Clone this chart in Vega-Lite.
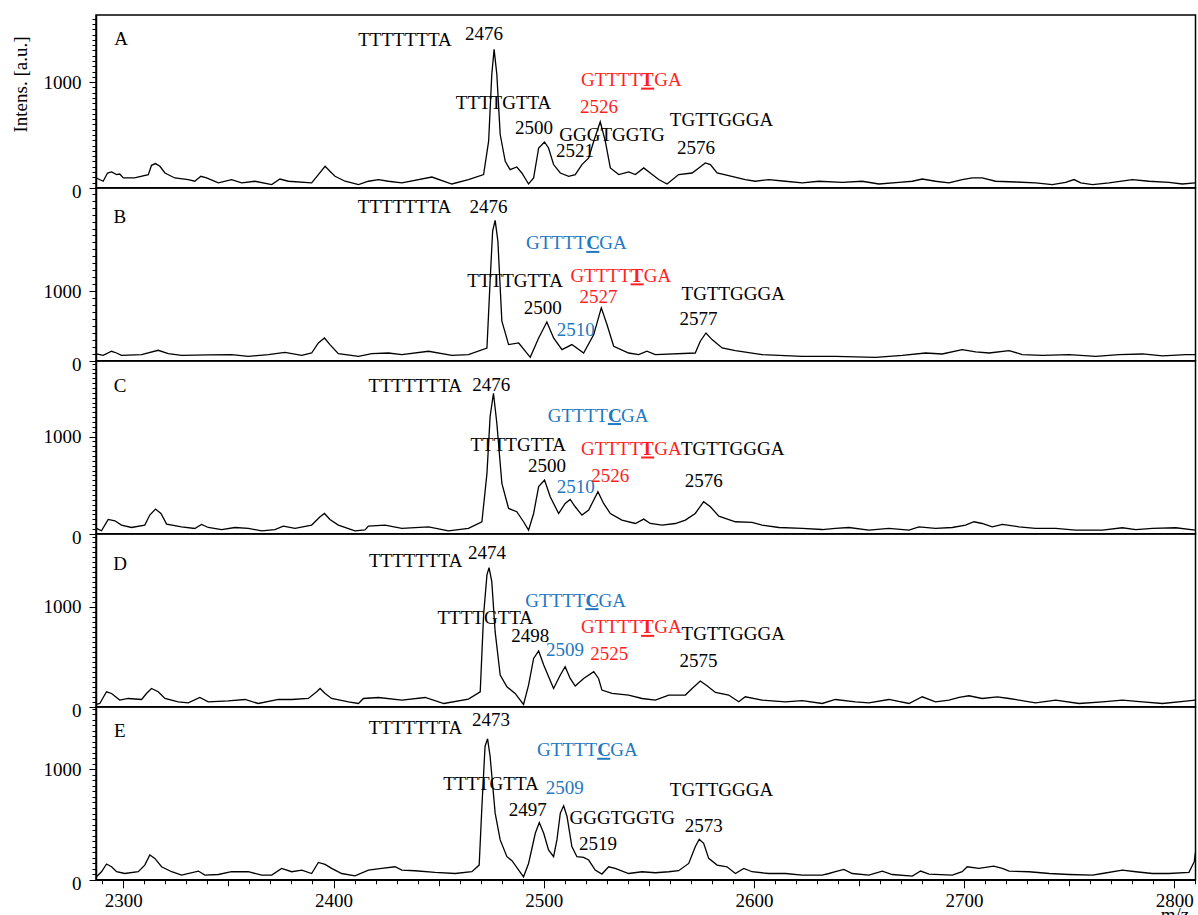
{
"$schema":"https://vega.github.io/schema/vega-lite/v6.json",
"padding":{"left":10,"top":8,"right":2,"bottom":0},
"background":"white",
"spacing":0,
"bounds":"flush",
"config":{"view":{"stroke":"black","strokeWidth":1.5},"font":"Liberation Serif","text":{"font":"Liberation Serif"}},
"datasets":{
"sA":[{"mz":2287.2,"i":93},{"mz":2290.4,"i":62},{"mz":2292.5,"i":140},{"mz":2294.4,"i":150},{"mz":2296.8,"i":125},{"mz":2298.3,"i":130},{"mz":2300,"i":93},{"mz":2305.3,"i":93},{"mz":2311.9,"i":125},{"mz":2313.4,"i":213},{"mz":2315.3,"i":229},{"mz":2317.4,"i":204},{"mz":2319.8,"i":140},{"mz":2324.5,"i":93},{"mz":2330.9,"i":78},{"mz":2334,"i":62},{"mz":2336.9,"i":109},{"mz":2339.6,"i":93},{"mz":2345.2,"i":46},{"mz":2351.5,"i":78},{"mz":2356.3,"i":46},{"mz":2362.6,"i":62},{"mz":2370.6,"i":30},{"mz":2374.5,"i":83},{"mz":2378.5,"i":62},{"mz":2389.6,"i":46},{"mz":2392.8,"i":125},{"mz":2396,"i":204},{"mz":2398.3,"i":156},{"mz":2400.7,"i":109},{"mz":2405.5,"i":62},{"mz":2411.9,"i":30},{"mz":2416.6,"i":62},{"mz":2421.4,"i":78},{"mz":2426.1,"i":62},{"mz":2432.5,"i":46},{"mz":2446.8,"i":102},{"mz":2456.3,"i":36},{"mz":2464.2,"i":78},{"mz":2471.4,"i":125},{"mz":2473.8,"i":441},{"mz":2475.3,"i":1073},{"mz":2476.4,"i":1310},{"mz":2477.7,"i":1073},{"mz":2479.3,"i":504},{"mz":2481.7,"i":251},{"mz":2484,"i":172},{"mz":2487.2,"i":197},{"mz":2489.6,"i":140},{"mz":2492.8,"i":36},{"mz":2495.2,"i":93},{"mz":2497.6,"i":377},{"mz":2500.4,"i":434},{"mz":2502.3,"i":377},{"mz":2504.7,"i":220},{"mz":2507.9,"i":140},{"mz":2511.9,"i":109},{"mz":2515,"i":125},{"mz":2518.2,"i":220},{"mz":2521.4,"i":282},{"mz":2523.8,"i":441},{"mz":2526.9,"i":624},{"mz":2529.3,"i":441},{"mz":2531.7,"i":188},{"mz":2535.7,"i":125},{"mz":2540.4,"i":150},{"mz":2543.6,"i":125},{"mz":2547.6,"i":188},{"mz":2550.7,"i":140},{"mz":2554.7,"i":78},{"mz":2558.7,"i":36},{"mz":2564.2,"i":125},{"mz":2570.6,"i":140},{"mz":2573.8,"i":188},{"mz":2576.9,"i":235},{"mz":2579.3,"i":220},{"mz":2582.5,"i":140},{"mz":2588,"i":115},{"mz":2595.9,"i":78},{"mz":2600.7,"i":62},{"mz":2607.1,"i":78},{"mz":2615,"i":62},{"mz":2623,"i":46},{"mz":2630.9,"i":62},{"mz":2642,"i":52},{"mz":2651.5,"i":62},{"mz":2659.5,"i":36},{"mz":2669,"i":52},{"mz":2675.4,"i":62},{"mz":2680.1,"i":83},{"mz":2686.4,"i":62},{"mz":2692.8,"i":46},{"mz":2699.1,"i":78},{"mz":2703.9,"i":93},{"mz":2708.6,"i":93},{"mz":2715,"i":62},{"mz":2724.5,"i":55},{"mz":2734,"i":46},{"mz":2742,"i":30},{"mz":2748.3,"i":52},{"mz":2752.3,"i":78},{"mz":2755.5,"i":46},{"mz":2761.1,"i":30},{"mz":2769,"i":46},{"mz":2780.1,"i":78},{"mz":2788,"i":62},{"mz":2797.5,"i":52},{"mz":2803.8,"i":36},{"mz":2810,"i":46}],
"sB":[{"mz":2287.2,"i":98},{"mz":2290.4,"i":79},{"mz":2294.4,"i":137},{"mz":2296.8,"i":112},{"mz":2299.1,"i":79},{"mz":2308.7,"i":89},{"mz":2316.6,"i":151},{"mz":2321.4,"i":103},{"mz":2327.7,"i":79},{"mz":2340.4,"i":84},{"mz":2351.5,"i":89},{"mz":2359.5,"i":65},{"mz":2369,"i":89},{"mz":2376.9,"i":122},{"mz":2384.9,"i":79},{"mz":2389.6,"i":112},{"mz":2392.8,"i":256},{"mz":2395.7,"i":328},{"mz":2398.3,"i":233},{"mz":2402.3,"i":103},{"mz":2411.9,"i":65},{"mz":2418.2,"i":103},{"mz":2426.1,"i":112},{"mz":2432.5,"i":89},{"mz":2445.2,"i":137},{"mz":2456.3,"i":79},{"mz":2464.2,"i":89},{"mz":2473,"i":184},{"mz":2474.5,"i":1144},{"mz":2475.7,"i":1863},{"mz":2476.9,"i":2017},{"mz":2478.2,"i":1719},{"mz":2480.1,"i":568},{"mz":2483.3,"i":233},{"mz":2488.1,"i":256},{"mz":2493.6,"i":50},{"mz":2497.6,"i":328},{"mz":2501.5,"i":558},{"mz":2504.7,"i":328},{"mz":2508.7,"i":161},{"mz":2513.4,"i":233},{"mz":2519,"i":112},{"mz":2523.8,"i":377},{"mz":2527.4,"i":760},{"mz":2530.1,"i":521},{"mz":2533.3,"i":209},{"mz":2540.4,"i":112},{"mz":2545.2,"i":89},{"mz":2549.1,"i":137},{"mz":2553.1,"i":89},{"mz":2572.1,"i":112},{"mz":2574.5,"i":281},{"mz":2577.2,"i":400},{"mz":2580.1,"i":305},{"mz":2584.9,"i":184},{"mz":2591.2,"i":147},{"mz":2603.9,"i":89},{"mz":2623,"i":65},{"mz":2638.8,"i":65},{"mz":2657.9,"i":50},{"mz":2670.6,"i":79},{"mz":2681.7,"i":112},{"mz":2689.6,"i":98},{"mz":2699.1,"i":161},{"mz":2705.5,"i":127},{"mz":2711.9,"i":112},{"mz":2721.4,"i":147},{"mz":2727.7,"i":89},{"mz":2737.3,"i":79},{"mz":2750,"i":89},{"mz":2762.6,"i":65},{"mz":2773.7,"i":89},{"mz":2784.9,"i":98},{"mz":2794.4,"i":72},{"mz":2805.5,"i":89},{"mz":2810,"i":89}],
"sC":[{"mz":2287.2,"i":55},{"mz":2289.6,"i":31},{"mz":2291.2,"i":90},{"mz":2292.8,"i":148},{"mz":2296,"i":134},{"mz":2299.1,"i":90},{"mz":2303.9,"i":65},{"mz":2310.2,"i":90},{"mz":2312.6,"i":193},{"mz":2315.3,"i":255},{"mz":2317.9,"i":209},{"mz":2320.6,"i":100},{"mz":2327.7,"i":72},{"mz":2334,"i":55},{"mz":2337.2,"i":96},{"mz":2340.4,"i":65},{"mz":2346.8,"i":44},{"mz":2353.1,"i":65},{"mz":2359.5,"i":55},{"mz":2365.8,"i":31},{"mz":2372.1,"i":44},{"mz":2376.1,"i":79},{"mz":2381.7,"i":55},{"mz":2389.6,"i":90},{"mz":2393.6,"i":175},{"mz":2395.7,"i":209},{"mz":2398.3,"i":148},{"mz":2402.3,"i":90},{"mz":2410.2,"i":31},{"mz":2415,"i":41},{"mz":2416.6,"i":79},{"mz":2424.5,"i":90},{"mz":2432.5,"i":55},{"mz":2445.2,"i":72},{"mz":2454.7,"i":31},{"mz":2464.2,"i":55},{"mz":2470.6,"i":124},{"mz":2473,"i":622},{"mz":2474.5,"i":1206},{"mz":2476.1,"i":1446},{"mz":2477.7,"i":1137},{"mz":2480.1,"i":519},{"mz":2483.3,"i":261},{"mz":2487.2,"i":227},{"mz":2490.4,"i":124},{"mz":2492.8,"i":38},{"mz":2495.2,"i":209},{"mz":2497.6,"i":485},{"mz":2500.4,"i":554},{"mz":2503.1,"i":381},{"mz":2507.1,"i":209},{"mz":2510.2,"i":312},{"mz":2512.6,"i":354},{"mz":2515,"i":278},{"mz":2518.2,"i":193},{"mz":2521.4,"i":244},{"mz":2525.8,"i":433},{"mz":2528.5,"i":312},{"mz":2531.7,"i":209},{"mz":2537.2,"i":141},{"mz":2543.6,"i":106},{"mz":2547.6,"i":151},{"mz":2550.7,"i":106},{"mz":2556.3,"i":90},{"mz":2562.6,"i":106},{"mz":2567.4,"i":141},{"mz":2572.1,"i":209},{"mz":2576.1,"i":330},{"mz":2579.3,"i":278},{"mz":2583.3,"i":182},{"mz":2591.2,"i":124},{"mz":2599.1,"i":117},{"mz":2603.9,"i":90},{"mz":2611.9,"i":65},{"mz":2623,"i":55},{"mz":2632.5,"i":44},{"mz":2638.8,"i":55},{"mz":2645.2,"i":65},{"mz":2654.7,"i":38},{"mz":2664.2,"i":55},{"mz":2673.8,"i":38},{"mz":2678.5,"i":72},{"mz":2686.4,"i":55},{"mz":2694.4,"i":65},{"mz":2700.7,"i":90},{"mz":2704.7,"i":124},{"mz":2708.6,"i":106},{"mz":2713.4,"i":72},{"mz":2718.2,"i":96},{"mz":2726.1,"i":72},{"mz":2734,"i":55},{"mz":2743.6,"i":55},{"mz":2753.1,"i":38},{"mz":2765.8,"i":38},{"mz":2775.3,"i":62},{"mz":2781.7,"i":44},{"mz":2789.6,"i":55},{"mz":2800.7,"i":62},{"mz":2810,"i":38}],
"sD":[{"mz":2287.2,"i":23},{"mz":2288.8,"i":33},{"mz":2292,"i":150},{"mz":2294.4,"i":133},{"mz":2298.3,"i":67},{"mz":2302.3,"i":83},{"mz":2308.7,"i":73},{"mz":2311,"i":133},{"mz":2313.4,"i":183},{"mz":2316.6,"i":150},{"mz":2319.8,"i":83},{"mz":2326.1,"i":50},{"mz":2330.9,"i":40},{"mz":2336.4,"i":93},{"mz":2340.4,"i":50},{"mz":2349.9,"i":60},{"mz":2357.9,"i":73},{"mz":2364.2,"i":33},{"mz":2373.8,"i":73},{"mz":2380.1,"i":73},{"mz":2388,"i":83},{"mz":2392,"i":150},{"mz":2393.6,"i":183},{"mz":2396,"i":133},{"mz":2399.1,"i":83},{"mz":2407.1,"i":50},{"mz":2411.9,"i":33},{"mz":2414.2,"i":83},{"mz":2421.4,"i":93},{"mz":2432.5,"i":67},{"mz":2443.6,"i":93},{"mz":2452.5,"i":33},{"mz":2464.2,"i":77},{"mz":2469.8,"i":150},{"mz":2471.4,"i":917},{"mz":2473,"i":1317},{"mz":2474,"i":1390},{"mz":2475.3,"i":1250},{"mz":2476.9,"i":750},{"mz":2479.3,"i":317},{"mz":2482.5,"i":200},{"mz":2486.4,"i":133},{"mz":2490.4,"i":23},{"mz":2492.8,"i":217},{"mz":2495.2,"i":483},{"mz":2497.6,"i":557},{"mz":2500,"i":417},{"mz":2504.7,"i":183},{"mz":2507.9,"i":317},{"mz":2510.2,"i":400},{"mz":2512.6,"i":283},{"mz":2515,"i":207},{"mz":2519,"i":283},{"mz":2523.8,"i":350},{"mz":2526.1,"i":283},{"mz":2527.7,"i":167},{"mz":2532.5,"i":133},{"mz":2540.4,"i":117},{"mz":2546.8,"i":83},{"mz":2553.1,"i":67},{"mz":2559.5,"i":117},{"mz":2567.4,"i":117},{"mz":2570.6,"i":183},{"mz":2574.5,"i":257},{"mz":2577.7,"i":210},{"mz":2581.7,"i":143},{"mz":2588,"i":117},{"mz":2592.8,"i":50},{"mz":2595.9,"i":100},{"mz":2603.9,"i":67},{"mz":2615,"i":50},{"mz":2623,"i":62},{"mz":2632.5,"i":33},{"mz":2638.8,"i":73},{"mz":2648.3,"i":50},{"mz":2654.7,"i":40},{"mz":2664.2,"i":73},{"mz":2673.8,"i":33},{"mz":2680.1,"i":100},{"mz":2686.4,"i":50},{"mz":2692.8,"i":67},{"mz":2697.6,"i":93},{"mz":2702.3,"i":110},{"mz":2708.6,"i":83},{"mz":2715.8,"i":100},{"mz":2721.4,"i":83},{"mz":2726.1,"i":67},{"mz":2734,"i":40},{"mz":2743.6,"i":67},{"mz":2754.7,"i":33},{"mz":2765.8,"i":50},{"mz":2775.3,"i":67},{"mz":2784.9,"i":50},{"mz":2794.4,"i":33},{"mz":2805.5,"i":57},{"mz":2810,"i":67}],
"sE":[{"mz":2287.2,"i":27},{"mz":2289.6,"i":73},{"mz":2292,"i":143},{"mz":2294.4,"i":118},{"mz":2296.8,"i":73},{"mz":2300.7,"i":57},{"mz":2307.1,"i":73},{"mz":2310.2,"i":133},{"mz":2312.6,"i":224},{"mz":2315,"i":194},{"mz":2318.2,"i":118},{"mz":2323,"i":73},{"mz":2327.7,"i":42},{"mz":2335.7,"i":79},{"mz":2338.8,"i":42},{"mz":2345.2,"i":48},{"mz":2351.5,"i":73},{"mz":2359.5,"i":73},{"mz":2365.8,"i":42},{"mz":2370.6,"i":42},{"mz":2375.3,"i":103},{"mz":2380.1,"i":73},{"mz":2384.9,"i":88},{"mz":2389.6,"i":57},{"mz":2392.8,"i":157},{"mz":2396,"i":139},{"mz":2399.1,"i":103},{"mz":2403.9,"i":57},{"mz":2410.2,"i":36},{"mz":2416.6,"i":88},{"mz":2422.9,"i":103},{"mz":2429.3,"i":118},{"mz":2432.5,"i":88},{"mz":2438.8,"i":82},{"mz":2448.3,"i":67},{"mz":2457.9,"i":57},{"mz":2465.8,"i":73},{"mz":2469.3,"i":133},{"mz":2470.6,"i":664},{"mz":2472.1,"i":1209},{"mz":2473.3,"i":1276},{"mz":2474.5,"i":1118},{"mz":2476.9,"i":603},{"mz":2479.3,"i":361},{"mz":2482.5,"i":209},{"mz":2484.9,"i":173},{"mz":2488.1,"i":88},{"mz":2490.4,"i":27},{"mz":2492.8,"i":148},{"mz":2496,"i":421},{"mz":2497.9,"i":518},{"mz":2500,"i":421},{"mz":2502.3,"i":270},{"mz":2504.7,"i":209},{"mz":2506.3,"i":361},{"mz":2507.9,"i":603},{"mz":2509.5,"i":670},{"mz":2511.1,"i":573},{"mz":2513.4,"i":300},{"mz":2515.8,"i":209},{"mz":2519,"i":203},{"mz":2521.4,"i":179},{"mz":2524.5,"i":88},{"mz":2527.7,"i":52},{"mz":2530.9,"i":118},{"mz":2534,"i":103},{"mz":2540.4,"i":57},{"mz":2546.8,"i":73},{"mz":2553.1,"i":64},{"mz":2559.5,"i":73},{"mz":2564.2,"i":82},{"mz":2569,"i":148},{"mz":2572.1,"i":300},{"mz":2574,"i":367},{"mz":2576.1,"i":330},{"mz":2578.5,"i":194},{"mz":2582.5,"i":133},{"mz":2587.2,"i":118},{"mz":2591.2,"i":57},{"mz":2595.2,"i":103},{"mz":2599.1,"i":73},{"mz":2607.1,"i":57},{"mz":2615,"i":57},{"mz":2623,"i":42},{"mz":2632.5,"i":42},{"mz":2635.7,"i":57},{"mz":2638.8,"i":73},{"mz":2642.8,"i":94},{"mz":2646.8,"i":57},{"mz":2654.7,"i":42},{"mz":2661.1,"i":79},{"mz":2665.8,"i":48},{"mz":2675.4,"i":33},{"mz":2679.3,"i":79},{"mz":2683.3,"i":52},{"mz":2694.4,"i":42},{"mz":2699.1,"i":73},{"mz":2701.5,"i":118},{"mz":2707.1,"i":103},{"mz":2714.1,"i":124},{"mz":2718.2,"i":103},{"mz":2721.4,"i":79},{"mz":2730.9,"i":73},{"mz":2740.6,"i":57},{"mz":2750,"i":48},{"mz":2761.1,"i":42},{"mz":2765.8,"i":57},{"mz":2775.3,"i":88},{"mz":2781.7,"i":73},{"mz":2789.6,"i":57},{"mz":2797.5,"i":57},{"mz":2807,"i":67},{"mz":2809.5,"i":164},{"mz":2810.1,"i":250}],
"lab":[
{"p":"A","mz":2298.9,"i":1351,"t":"A","c":"k"},{"p":"A","mz":2434.0,"i":1341,"t":"TTTTTTTA","c":"k"},{"p":"A","mz":2471.6,"i":1398,"t":"2476","c":"k"},{"p":"A","mz":2480.9,"i":744,"t":"TTTTGTTA","c":"k"},{"p":"A","mz":2495.4,"i":507,"t":"2500","c":"k"},{"p":"A","mz":2526.3,"i":706,"t":"2526","c":"r"},{"p":"A","mz":2532.5,"i":441,"t":"GGGTGGTG","c":"k"},{"p":"A","mz":2514.9,"i":289,"t":"2521","c":"k"},{"p":"A","mz":2584.6,"i":583,"t":"TGTTGGGA","c":"k"},{"p":"A","mz":2572.5,"i":318,"t":"2576","c":"k"},
{"p":"B","mz":2298.3,"i":1974,"t":"B","c":"k"},{"p":"B","mz":2433.8,"i":2122,"t":"TTTTTTTA","c":"k"},{"p":"B","mz":2473.7,"i":2127,"t":"2476","c":"k"},{"p":"B","mz":2486.4,"i":1058,"t":"TTTTGTTA","c":"k"},{"p":"B","mz":2526.1,"i":832,"t":"2527","c":"r"},{"p":"B","mz":2499.5,"i":679,"t":"2500","c":"k"},{"p":"B","mz":2515.2,"i":353,"t":"2510","c":"b"},{"p":"B","mz":2590.2,"i":880,"t":"TGTTGGGA","c":"k"},{"p":"B","mz":2573.6,"i":511,"t":"2577","c":"k"},
{"p":"C","mz":2298.5,"i":1464,"t":"C","c":"k"},{"p":"C","mz":2438.9,"i":1464,"t":"TTTTTTTA","c":"k"},{"p":"C","mz":2475.1,"i":1474,"t":"2476","c":"k"},{"p":"C","mz":2487.9,"i":856,"t":"TTTTGTTA","c":"k"},{"p":"C","mz":2589.9,"i":811,"t":"TGTTGGGA","c":"k"},{"p":"C","mz":2501.6,"i":639,"t":"2500","c":"k"},{"p":"C","mz":2515.2,"i":415,"t":"2510","c":"b"},{"p":"C","mz":2531.7,"i":536,"t":"2526","c":"r"},{"p":"C","mz":2576.1,"i":485,"t":"2576","c":"k"},
{"p":"D","mz":2298.5,"i":1367,"t":"D","c":"k"},{"p":"D","mz":2439.1,"i":1400,"t":"TTTTTTTA","c":"k"},{"p":"D","mz":2473.0,"i":1473,"t":"2474","c":"k"},{"p":"D","mz":2472.2,"i":823,"t":"TTTTGTTA","c":"k"},{"p":"D","mz":2493.6,"i":643,"t":"2498","c":"k"},{"p":"D","mz":2510.1,"i":507,"t":"2509","c":"b"},{"p":"D","mz":2590.2,"i":667,"t":"TGTTGGGA","c":"k"},{"p":"D","mz":2531.2,"i":467,"t":"2525","c":"r"},{"p":"D","mz":2573.7,"i":400,"t":"2575","c":"k"},
{"p":"E","mz":2298.3,"i":1291,"t":"E","c":"k"},{"p":"E","mz":2439.0,"i":1324,"t":"TTTTTTTA","c":"k"},{"p":"E","mz":2474.9,"i":1391,"t":"2473","c":"k"},{"p":"E","mz":2474.9,"i":815,"t":"TTTTGTTA","c":"k"},{"p":"E","mz":2510.0,"i":779,"t":"2509","c":"b"},{"p":"E","mz":2492.4,"i":573,"t":"2497","c":"k"},{"p":"E","mz":2537.4,"i":506,"t":"GGGTGGTG","c":"k"},{"p":"E","mz":2525.8,"i":270,"t":"2519","c":"k"},{"p":"E","mz":2584.6,"i":761,"t":"TGTTGGGA","c":"k"},{"p":"E","mz":2576.1,"i":436,"t":"2573","c":"k"}
],
"mut":[
{"p":"A","mz":2517.7,"i":962,"pre":"GTTTT","mid":"T","post":"GA","c":"r"},
{"p":"B","mz":2491.6,"i":1600,"pre":"GTTTT","mid":"C","post":"GA","c":"b"},
{"p":"B","mz":2512.7,"i":1134,"pre":"GTTTT","mid":"T","post":"GA","c":"r"},
{"p":"C","mz":2501.9,"i":1155,"pre":"GTTTT","mid":"C","post":"GA","c":"b"},
{"p":"C","mz":2517.7,"i":811,"pre":"GTTTT","mid":"T","post":"GA","c":"r"},
{"p":"D","mz":2491.2,"i":1000,"pre":"GTTTT","mid":"C","post":"GA","c":"b"},
{"p":"D","mz":2517.7,"i":733,"pre":"GTTTT","mid":"T","post":"GA","c":"r"},
{"p":"E","mz":2496.8,"i":1118,"pre":"GTTTT","mid":"C","post":"GA","c":"b"}
]
},
"vconcat":[
{"width":1099.5,"height":172.8,
"encoding":{"x":{"field":"mz","type":"quantitative","scale":{"domain":[2287,2810.1],"nice":false,"zero":false},"axis":null},
"y":{"field":"i","type":"quantitative","scale":{"domain":[0,1635],"nice":false},"axis":{"values":[0,50,100,150,200,250,300,350,400,450,500,550,600,650,700,750,800,850,900,950,1000,1050,1100,1150,1200,1250,1300,1350,1400,1450,1500,1550,1600],"labelExpr":"datum.value==0||datum.value==1000?datum.value:''","tickSize":{"condition":{"test":"datum.value==0||datum.value==1000","value":7},"value":4},"labelOffset":{"condition":{"test":"datum.value==0","value":4},"value":0},"grid":false,"domainColor":"black","domainWidth":1.5,"tickColor":"black","labelColor":"black","labelFont":"Liberation Serif","labelFontSize":19,"labelPadding":8,"labelOverlap":false,"labelBound":false,"labelFlush":false,"title":"Intens. [a.u.]","titleFont":"Liberation Serif","titleFontSize":19,"titleFontWeight":"normal","titleColor":"black","titleAngle":-90,"titleX":-69.5,"titleY":69,"titleAlign":"center","titleBaseline":"alphabetic"}}},
"layer":[
{"data":{"name":"sA"},"mark":{"type":"line","color":"black","strokeWidth":1.3},"encoding":{}},
{"data":{"name":"lab"},"transform":[{"filter":"datum.p=='A'"}],"mark":{"type":"text","fontSize":19,"align":"center","baseline":"alphabetic"},"encoding":{"text":{"field":"t"},"color":{"field":"c","type":"nominal","scale":{"domain":["k","r","b"],"range":["#000000","#ff1f1f","#1f78c1"]},"legend":null}}},
{"data":{"name":"mut"},"transform":[{"filter":"datum.p=='A'"}],"mark":{"type":"text","fontSize":19,"align":"left","baseline":"alphabetic"},"encoding":{"text":{"field":"pre"},"color":{"field":"c","type":"nominal","scale":{"domain":["k","r","b"],"range":["#000000","#ff1f1f","#1f78c1"]},"legend":null}}},
{"data":{"name":"mut"},"transform":[{"filter":"datum.p=='A'"}],"mark":{"type":"text","fontSize":19,"align":"left","baseline":"alphabetic","dx":60.2,"fontWeight":"bold"},"encoding":{"text":{"field":"mid"},"color":{"field":"c","type":"nominal","scale":{"domain":["k","r","b"],"range":["#000000","#ff1f1f","#1f78c1"]},"legend":null}}},
{"data":{"name":"mut"},"transform":[{"filter":"datum.p=='A'"}],"mark":{"type":"text","fontSize":19,"align":"left","baseline":"alphabetic","dx":73.3},"encoding":{"text":{"field":"post"},"color":{"field":"c","type":"nominal","scale":{"domain":["k","r","b"],"range":["#000000","#ff1f1f","#1f78c1"]},"legend":null}}},
{"data":{"name":"mut"},"transform":[{"filter":"datum.p=='A'"}],"mark":{"type":"rule","xOffset":60.2,"x2Offset":73.3,"yOffset":2.5,"strokeWidth":2},"encoding":{"x2":{"field":"mz"},"color":{"field":"c","type":"nominal","scale":{"domain":["k","r","b"],"range":["#000000","#ff1f1f","#1f78c1"]},"legend":null}}}
]},
{"width":1099.5,"height":172.8,
"encoding":{"x":{"field":"mz","type":"quantitative","scale":{"domain":[2287,2810.1],"nice":false,"zero":false},"axis":null},
"y":{"field":"i","type":"quantitative","scale":{"domain":[0,2482],"nice":false},"axis":{"values":[0,100,200,300,400,500,600,700,800,900,1000,1100,1200,1300,1400,1500,1600,1700,1800,1900,2000,2100,2200,2300,2400],"labelExpr":"datum.value==0||datum.value==1000?datum.value:''","tickSize":{"condition":{"test":"datum.value==0||datum.value==1000","value":7},"value":4},"labelOffset":{"condition":{"test":"datum.value==0","value":4},"value":0},"grid":false,"domainColor":"black","domainWidth":1.5,"tickColor":"black","labelColor":"black","labelFont":"Liberation Serif","labelFontSize":19,"labelPadding":8,"labelOverlap":false,"labelBound":false,"labelFlush":false,"title":null}}},
"layer":[
{"data":{"name":"sB"},"mark":{"type":"line","color":"black","strokeWidth":1.3},"encoding":{}},
{"data":{"name":"lab"},"transform":[{"filter":"datum.p=='B'"}],"mark":{"type":"text","fontSize":19,"align":"center","baseline":"alphabetic"},"encoding":{"text":{"field":"t"},"color":{"field":"c","type":"nominal","scale":{"domain":["k","r","b"],"range":["#000000","#ff1f1f","#1f78c1"]},"legend":null}}},
{"data":{"name":"mut"},"transform":[{"filter":"datum.p=='B'"}],"mark":{"type":"text","fontSize":19,"align":"left","baseline":"alphabetic"},"encoding":{"text":{"field":"pre"},"color":{"field":"c","type":"nominal","scale":{"domain":["k","r","b"],"range":["#000000","#ff1f1f","#1f78c1"]},"legend":null}}},
{"data":{"name":"mut"},"transform":[{"filter":"datum.p=='B'"}],"mark":{"type":"text","fontSize":19,"align":"left","baseline":"alphabetic","dx":60.2,"fontWeight":"bold"},"encoding":{"text":{"field":"mid"},"color":{"field":"c","type":"nominal","scale":{"domain":["k","r","b"],"range":["#000000","#ff1f1f","#1f78c1"]},"legend":null}}},
{"data":{"name":"mut"},"transform":[{"filter":"datum.p=='B'"}],"mark":{"type":"text","fontSize":19,"align":"left","baseline":"alphabetic","dx":73.3},"encoding":{"text":{"field":"post"},"color":{"field":"c","type":"nominal","scale":{"domain":["k","r","b"],"range":["#000000","#ff1f1f","#1f78c1"]},"legend":null}}},
{"data":{"name":"mut"},"transform":[{"filter":"datum.p=='B'"}],"mark":{"type":"rule","xOffset":60.2,"x2Offset":73.3,"yOffset":2.5,"strokeWidth":2},"encoding":{"x2":{"field":"mz"},"color":{"field":"c","type":"nominal","scale":{"domain":["k","r","b"],"range":["#000000","#ff1f1f","#1f78c1"]},"legend":null}}}
]},
{"width":1099.5,"height":172.8,
"encoding":{"x":{"field":"mz","type":"quantitative","scale":{"domain":[2287,2810.1],"nice":false,"zero":false},"axis":null},
"y":{"field":"i","type":"quantitative","scale":{"domain":[0,1778],"nice":false},"axis":{"values":[0,50,100,150,200,250,300,350,400,450,500,550,600,650,700,750,800,850,900,950,1000,1050,1100,1150,1200,1250,1300,1350,1400,1450,1500,1550,1600,1650,1700,1750],"labelExpr":"datum.value==0||datum.value==1000?datum.value:''","tickSize":{"condition":{"test":"datum.value==0||datum.value==1000","value":7},"value":4},"labelOffset":{"condition":{"test":"datum.value==0","value":4},"value":0},"grid":false,"domainColor":"black","domainWidth":1.5,"tickColor":"black","labelColor":"black","labelFont":"Liberation Serif","labelFontSize":19,"labelPadding":8,"labelOverlap":false,"labelBound":false,"labelFlush":false,"title":null}}},
"layer":[
{"data":{"name":"sC"},"mark":{"type":"line","color":"black","strokeWidth":1.3},"encoding":{}},
{"data":{"name":"lab"},"transform":[{"filter":"datum.p=='C'"}],"mark":{"type":"text","fontSize":19,"align":"center","baseline":"alphabetic"},"encoding":{"text":{"field":"t"},"color":{"field":"c","type":"nominal","scale":{"domain":["k","r","b"],"range":["#000000","#ff1f1f","#1f78c1"]},"legend":null}}},
{"data":{"name":"mut"},"transform":[{"filter":"datum.p=='C'"}],"mark":{"type":"text","fontSize":19,"align":"left","baseline":"alphabetic"},"encoding":{"text":{"field":"pre"},"color":{"field":"c","type":"nominal","scale":{"domain":["k","r","b"],"range":["#000000","#ff1f1f","#1f78c1"]},"legend":null}}},
{"data":{"name":"mut"},"transform":[{"filter":"datum.p=='C'"}],"mark":{"type":"text","fontSize":19,"align":"left","baseline":"alphabetic","dx":60.2,"fontWeight":"bold"},"encoding":{"text":{"field":"mid"},"color":{"field":"c","type":"nominal","scale":{"domain":["k","r","b"],"range":["#000000","#ff1f1f","#1f78c1"]},"legend":null}}},
{"data":{"name":"mut"},"transform":[{"filter":"datum.p=='C'"}],"mark":{"type":"text","fontSize":19,"align":"left","baseline":"alphabetic","dx":73.3},"encoding":{"text":{"field":"post"},"color":{"field":"c","type":"nominal","scale":{"domain":["k","r","b"],"range":["#000000","#ff1f1f","#1f78c1"]},"legend":null}}},
{"data":{"name":"mut"},"transform":[{"filter":"datum.p=='C'"}],"mark":{"type":"rule","xOffset":60.2,"x2Offset":73.3,"yOffset":2.5,"strokeWidth":2},"encoding":{"x2":{"field":"mz"},"color":{"field":"c","type":"nominal","scale":{"domain":["k","r","b"],"range":["#000000","#ff1f1f","#1f78c1"]},"legend":null}}}
]},
{"width":1099.5,"height":172.8,
"encoding":{"x":{"field":"mz","type":"quantitative","scale":{"domain":[2287,2810.1],"nice":false,"zero":false},"axis":null},
"y":{"field":"i","type":"quantitative","scale":{"domain":[0,1725],"nice":false},"axis":{"values":[0,50,100,150,200,250,300,350,400,450,500,550,600,650,700,750,800,850,900,950,1000,1050,1100,1150,1200,1250,1300,1350,1400,1450,1500,1550,1600,1650,1700],"labelExpr":"datum.value==0||datum.value==1000?datum.value:''","tickSize":{"condition":{"test":"datum.value==0||datum.value==1000","value":7},"value":4},"labelOffset":{"condition":{"test":"datum.value==0","value":4},"value":0},"grid":false,"domainColor":"black","domainWidth":1.5,"tickColor":"black","labelColor":"black","labelFont":"Liberation Serif","labelFontSize":19,"labelPadding":8,"labelOverlap":false,"labelBound":false,"labelFlush":false,"title":null}}},
"layer":[
{"data":{"name":"sD"},"mark":{"type":"line","color":"black","strokeWidth":1.3},"encoding":{}},
{"data":{"name":"lab"},"transform":[{"filter":"datum.p=='D'"}],"mark":{"type":"text","fontSize":19,"align":"center","baseline":"alphabetic"},"encoding":{"text":{"field":"t"},"color":{"field":"c","type":"nominal","scale":{"domain":["k","r","b"],"range":["#000000","#ff1f1f","#1f78c1"]},"legend":null}}},
{"data":{"name":"mut"},"transform":[{"filter":"datum.p=='D'"}],"mark":{"type":"text","fontSize":19,"align":"left","baseline":"alphabetic"},"encoding":{"text":{"field":"pre"},"color":{"field":"c","type":"nominal","scale":{"domain":["k","r","b"],"range":["#000000","#ff1f1f","#1f78c1"]},"legend":null}}},
{"data":{"name":"mut"},"transform":[{"filter":"datum.p=='D'"}],"mark":{"type":"text","fontSize":19,"align":"left","baseline":"alphabetic","dx":60.2,"fontWeight":"bold"},"encoding":{"text":{"field":"mid"},"color":{"field":"c","type":"nominal","scale":{"domain":["k","r","b"],"range":["#000000","#ff1f1f","#1f78c1"]},"legend":null}}},
{"data":{"name":"mut"},"transform":[{"filter":"datum.p=='D'"}],"mark":{"type":"text","fontSize":19,"align":"left","baseline":"alphabetic","dx":73.3},"encoding":{"text":{"field":"post"},"color":{"field":"c","type":"nominal","scale":{"domain":["k","r","b"],"range":["#000000","#ff1f1f","#1f78c1"]},"legend":null}}},
{"data":{"name":"mut"},"transform":[{"filter":"datum.p=='D'"}],"mark":{"type":"rule","xOffset":60.2,"x2Offset":73.3,"yOffset":2.5,"strokeWidth":2},"encoding":{"x2":{"field":"mz"},"color":{"field":"c","type":"nominal","scale":{"domain":["k","r","b"],"range":["#000000","#ff1f1f","#1f78c1"]},"legend":null}}}
]},
{"width":1099.5,"height":172.8,
"encoding":{"x":{"field":"mz","type":"quantitative","scale":{"domain":[2287,2810.1],"nice":false,"zero":false},"axis":{"values":[2290,2300,2310,2320,2330,2340,2350,2360,2370,2380,2390,2400,2410,2420,2430,2440,2450,2460,2470,2480,2490,2500,2510,2520,2530,2540,2550,2560,2570,2580,2590,2600,2610,2620,2630,2640,2650,2660,2670,2680,2690,2700,2710,2720,2730,2740,2750,2760,2770,2780,2790,2800,2810],"labelExpr":"datum.value%100==0?datum.value:''","tickSize":{"condition":[{"test":"datum.value%100==0","value":8},{"test":"datum.value%50==0","value":6}],"value":4},"grid":false,"domainColor":"black","domainWidth":1.5,"tickColor":"black","labelColor":"black","labelFont":"Liberation Serif","labelFontSize":19,"labelPadding":4,"labelOverlap":false,"labelBound":false,"labelFlush":false,"title":"m/z","titleFont":"Liberation Serif","titleFontSize":19,"titleFontWeight":"normal","titleColor":"black","titleX":1078.5,"titleY":41,"titleAlign":"center","titleBaseline":"alphabetic"}},
"y":{"field":"i","type":"quantitative","scale":{"domain":[0,1564],"nice":false},"axis":{"values":[0,50,100,150,200,250,300,350,400,450,500,550,600,650,700,750,800,850,900,950,1000,1050,1100,1150,1200,1250,1300,1350,1400,1450,1500,1550],"labelExpr":"datum.value==0||datum.value==1000?datum.value:''","tickSize":{"condition":{"test":"datum.value==0||datum.value==1000","value":7},"value":4},"labelOffset":{"condition":{"test":"datum.value==0","value":4},"value":0},"grid":false,"domainColor":"black","domainWidth":1.5,"tickColor":"black","labelColor":"black","labelFont":"Liberation Serif","labelFontSize":19,"labelPadding":8,"labelOverlap":false,"labelBound":false,"labelFlush":false,"title":null}}},
"layer":[
{"data":{"name":"sE"},"mark":{"type":"line","color":"black","strokeWidth":1.3},"encoding":{}},
{"data":{"name":"lab"},"transform":[{"filter":"datum.p=='E'"}],"mark":{"type":"text","fontSize":19,"align":"center","baseline":"alphabetic"},"encoding":{"text":{"field":"t"},"color":{"field":"c","type":"nominal","scale":{"domain":["k","r","b"],"range":["#000000","#ff1f1f","#1f78c1"]},"legend":null}}},
{"data":{"name":"mut"},"transform":[{"filter":"datum.p=='E'"}],"mark":{"type":"text","fontSize":19,"align":"left","baseline":"alphabetic"},"encoding":{"text":{"field":"pre"},"color":{"field":"c","type":"nominal","scale":{"domain":["k","r","b"],"range":["#000000","#ff1f1f","#1f78c1"]},"legend":null}}},
{"data":{"name":"mut"},"transform":[{"filter":"datum.p=='E'"}],"mark":{"type":"text","fontSize":19,"align":"left","baseline":"alphabetic","dx":60.2,"fontWeight":"bold"},"encoding":{"text":{"field":"mid"},"color":{"field":"c","type":"nominal","scale":{"domain":["k","r","b"],"range":["#000000","#ff1f1f","#1f78c1"]},"legend":null}}},
{"data":{"name":"mut"},"transform":[{"filter":"datum.p=='E'"}],"mark":{"type":"text","fontSize":19,"align":"left","baseline":"alphabetic","dx":73.3},"encoding":{"text":{"field":"post"},"color":{"field":"c","type":"nominal","scale":{"domain":["k","r","b"],"range":["#000000","#ff1f1f","#1f78c1"]},"legend":null}}},
{"data":{"name":"mut"},"transform":[{"filter":"datum.p=='E'"}],"mark":{"type":"rule","xOffset":60.2,"x2Offset":73.3,"yOffset":2.5,"strokeWidth":2},"encoding":{"x2":{"field":"mz"},"color":{"field":"c","type":"nominal","scale":{"domain":["k","r","b"],"range":["#000000","#ff1f1f","#1f78c1"]},"legend":null}}}
]}
]
}
